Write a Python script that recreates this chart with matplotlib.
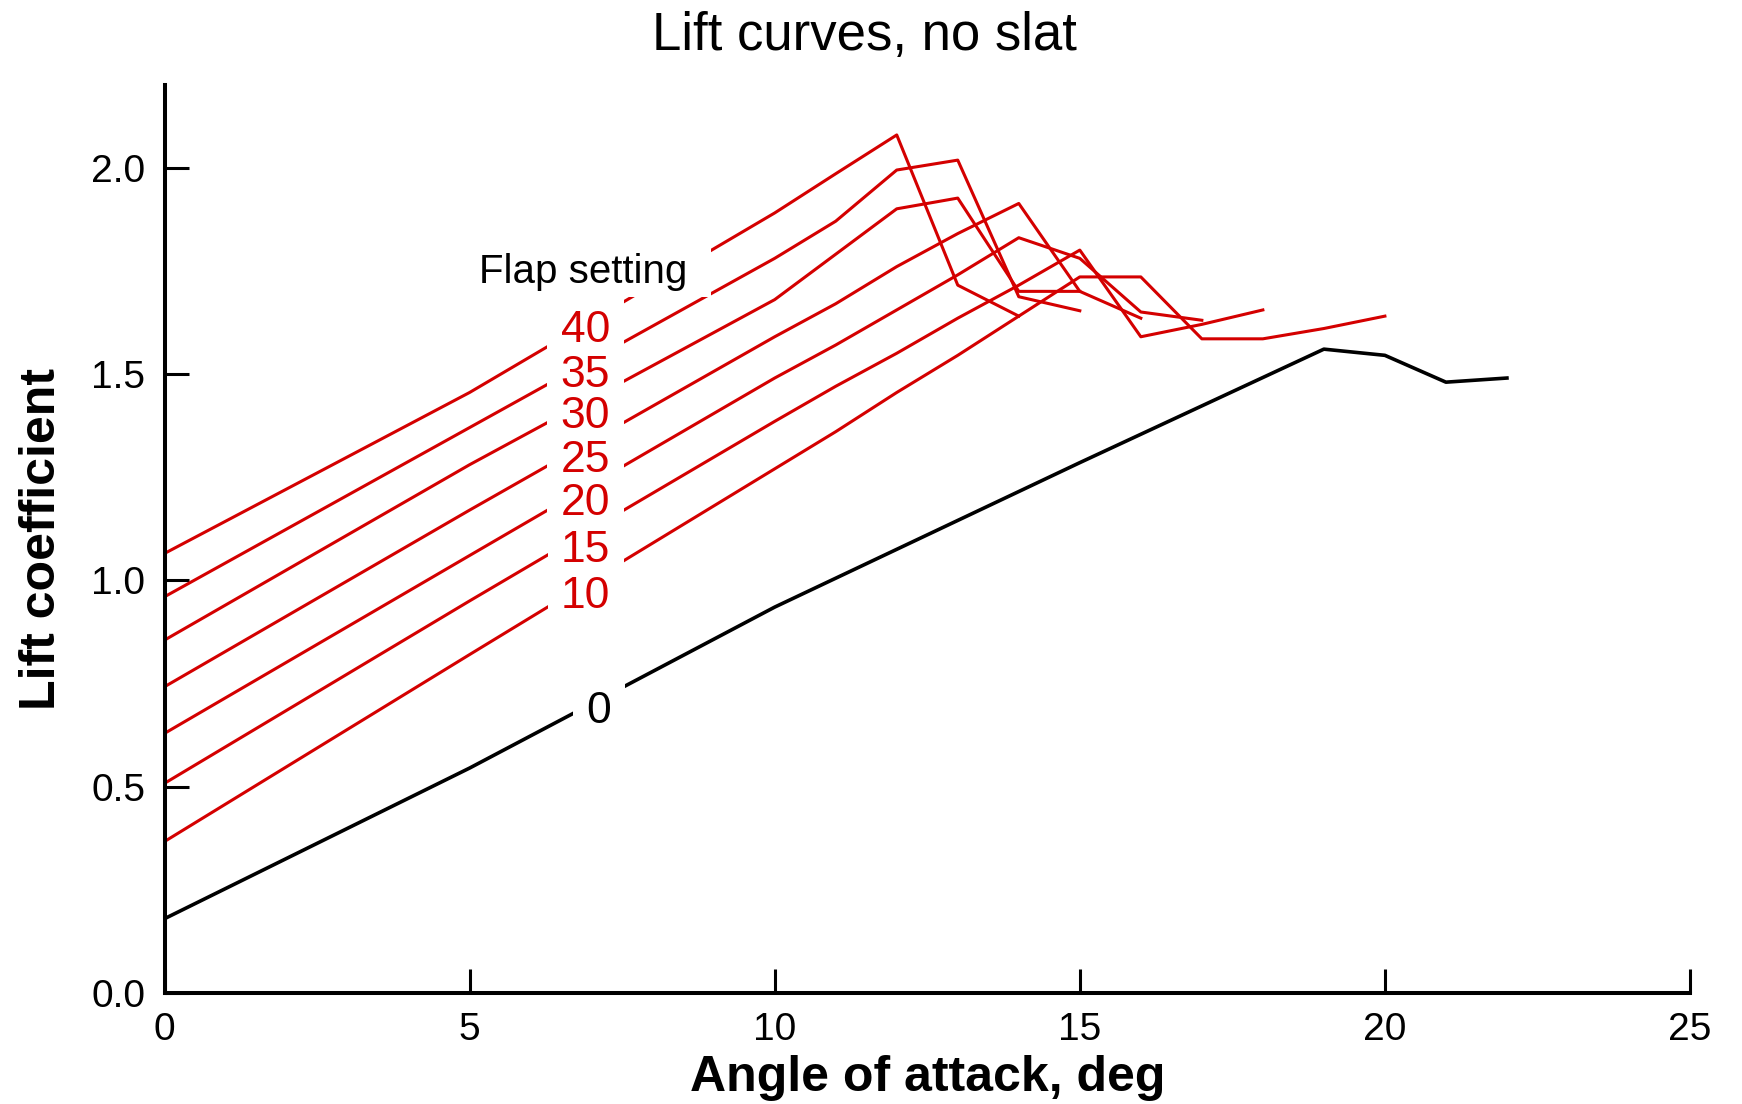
import numpy as np
import matplotlib
matplotlib.use("Agg")
from matplotlib import pyplot as plt
from matplotlib.ticker import FormatStrFormatter

plt.rcParams["font.family"] = "Liberation Sans"

# flap 0 (black)
alpha_0 = [0, 5, 10, 15, 19, 20, 21, 22]
cl_0 = [0.18, 0.545, 0.935, 1.285, 1.56, 1.545, 1.48, 1.49]

# flapped curves (red)
alpha_10 = [0, 5, 10, 11, 12, 13, 14, 15, 16, 17, 18, 19, 20]
cl_10 = [0.367, 0.82, 1.27, 1.36, 1.455, 1.545, 1.64, 1.735, 1.735, 1.585, 1.585, 1.61, 1.64]
alpha_15 = [0, 5, 10, 11, 12, 13, 14, 15, 16, 17, 18]
cl_15 = [0.508, 0.95, 1.385, 1.47, 1.55, 1.635, 1.715, 1.80, 1.59, 1.62, 1.655]
alpha_20 = [0, 5, 10, 11, 12, 13, 14, 15, 16, 17]
cl_20 = [0.629, 1.06, 1.49, 1.57, 1.655, 1.74, 1.83, 1.78, 1.65, 1.63]
alpha_25 = [0, 5, 10, 11, 12, 13, 14, 15, 16]
cl_25 = [0.742, 1.17, 1.59, 1.67, 1.76, 1.84, 1.913, 1.70, 1.635]
alpha_30 = [0, 5, 10, 11, 12, 13, 14, 15]
cl_30 = [0.855, 1.28, 1.68, 1.79, 1.90, 1.926, 1.70, 1.70]
alpha_35 = [0, 5, 10, 11, 12, 13, 14, 15]
cl_35 = [0.96, 1.37, 1.78, 1.87, 1.994, 2.018, 1.687, 1.653]
alpha_40 = [0, 5, 10, 11, 12, 13, 14]
cl_40 = [1.065, 1.455, 1.89, 1.985, 2.079, 1.715, 1.64]

flap_labels = ["40", "35", "30", "25", "20", "15", "10"]
flap_alpha = [alpha_40, alpha_35, alpha_30, alpha_25, alpha_20, alpha_15, alpha_10]
flap_cl = [cl_40, cl_35, cl_30, cl_25, cl_20, cl_15, cl_10]
# baselines of the in-line labels (they stack in a column, not exactly on each curve)
label_base = [1.577, 1.468, 1.369, 1.262, 1.158, 1.044, 0.933]

red = "#d40000"

fig = plt.figure(figsize=(17.42, 11.04), dpi=100)
ax = fig.add_axes([164.5 / 1742, 1 - 993 / 1104, (1690 - 164.5) / 1742, (993 - 85) / 1104])

for a, c in zip(flap_alpha, flap_cl):
    ax.plot(a, c, color=red, lw=2.2, zorder=2)
ax.plot(alpha_0, cl_0, color="black", lw=2.6, zorder=2)

labels = [(lab, 6.9, y, red) for lab, y in zip(flap_labels, label_base)]
labels.append(("0", 7.12, 0.654, "black"))
# white boxes first so the curves are broken under the labels, then the text
for lab, x, y, col in labels:
    ax.text(x, y, lab, fontsize=32, color="white", ha="center", va="baseline", zorder=3,
            bbox=dict(boxstyle="square,pad=0.3", fc="white", ec="none"))
for lab, x, y, col in labels:
    ax.text(x, y, lab, fontsize=32, color=col, ha="center", va="baseline", zorder=4)

ax.text(6.86, 1.72, "Flap setting", fontsize=29, ha="center", va="baseline", zorder=4,
        bbox=dict(boxstyle="square,pad=0.6", fc="white", ec="none", mutation_aspect=0.25))

ax.set_xlim(0, 25)
ax.set_ylim(0, 2.2)
ax.set_xticks([0, 5, 10, 15, 20, 25])
ax.set_yticks([0, 0.5, 1.0, 1.5, 2.0])
ax.yaxis.set_major_formatter(FormatStrFormatter("%.1f"))
ax.tick_params(direction="in", length=17, width=2.2, labelsize=28, pad=14)
for s in ["top", "right"]:
    ax.spines[s].set_visible(False)
for s in ["left", "bottom"]:
    ax.spines[s].set_linewidth(2.9)

ax.set_xlabel("Angle of attack, deg", fontsize=36, fontweight="bold", va="center")
ax.xaxis.set_label_coords(0.5, -0.0936)
ax.set_ylabel("Lift coefficient", fontsize=36, fontweight="bold", va="center")
ax.yaxis.set_label_coords(-0.08, 0.5)

fig.text(864 / 1742, 1 - 36 / 1104, "Lift curves, no slat", fontsize=38,
         ha="center", va="center")

fig.savefig("out.png", dpi=100)
